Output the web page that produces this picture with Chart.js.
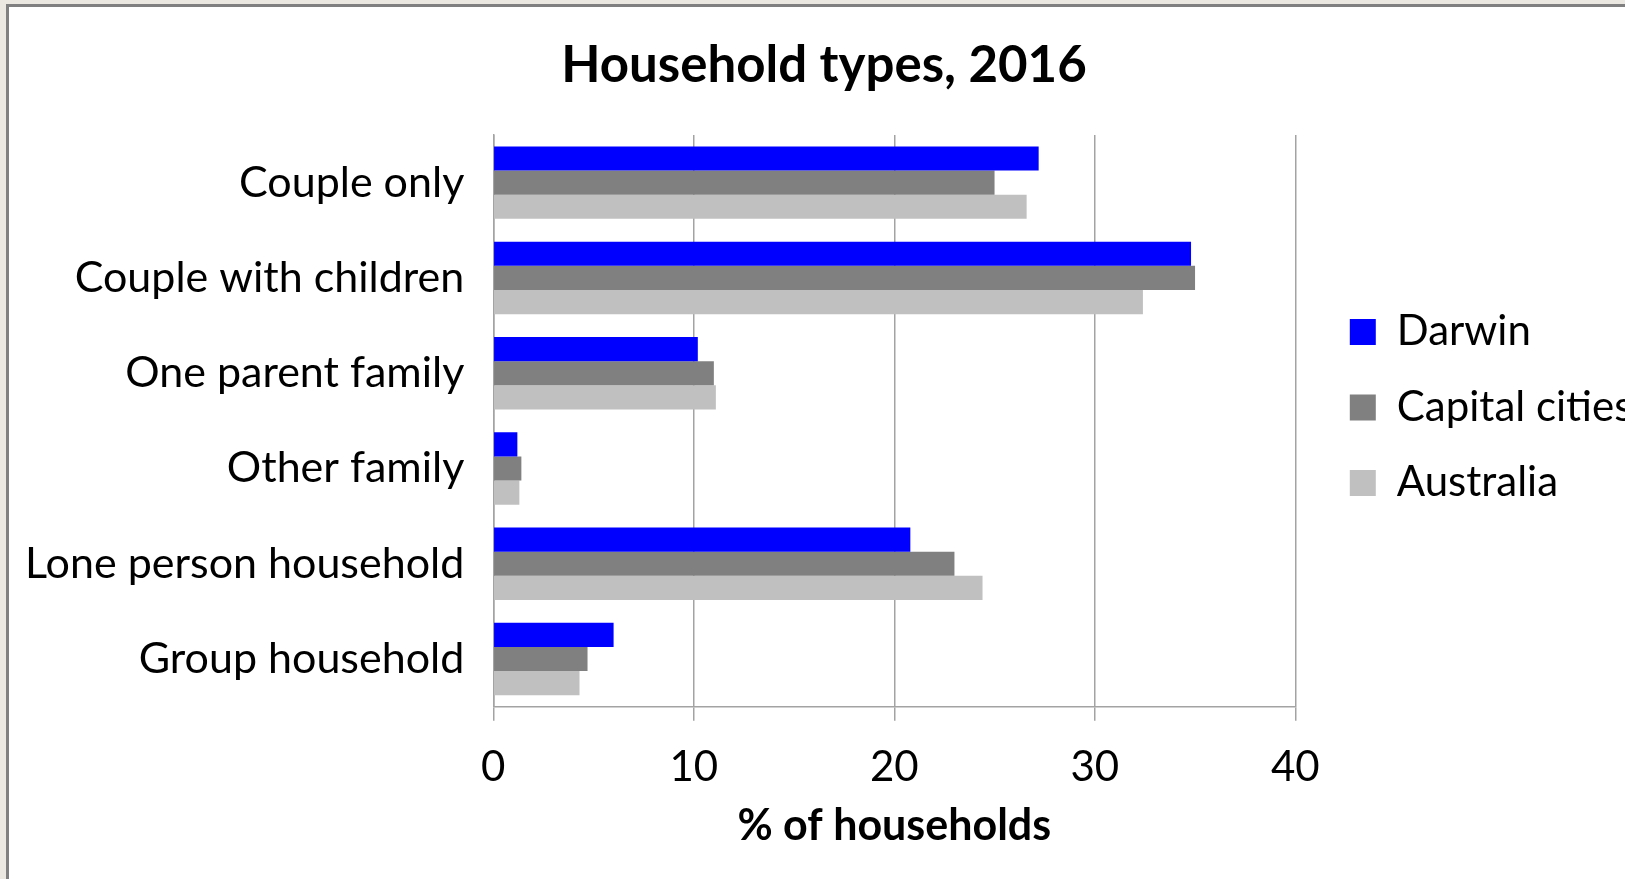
<!DOCTYPE html>
<html>
<head>
<meta charset="utf-8">
<title>Household types, 2016</title>
<script src="https://cdn.jsdelivr.net/npm/chart.js@4.4.1/dist/chart.umd.min.js"></script>
<style>
  html, body { margin: 0; padding: 0; }
  body { width: 1625px; height: 879px; overflow: hidden; background: #ebe8e1; position: relative; }
  #panel { position: absolute; left: 6px; top: 4px; width: 1700px; height: 1000px; background: #fff; border: 3px solid #808080; box-sizing: border-box; }
  #chart { position: absolute; left: 0; top: 0; }
</style>
</head>
<body>
<div id="panel"></div>
<canvas id="chart" width="1700" height="879"></canvas>
<script>
// Data
const categories = ['Couple only', 'Couple with children', 'One parent family', 'Other family', 'Lone person household', 'Group household'];
const seriesNames = ['Darwin', 'Capital cities', 'Australia'];
const darwin = [27.2, 34.8, 10.2, 1.2, 20.8, 6.0];
const capitalCities = [25.0, 35.0, 11.0, 1.4, 23.0, 4.7];
const australia = [26.6, 32.4, 11.1, 1.3, 24.4, 4.3];
const xTicks = [0, 10, 20, 30, 40];

const seriesColors = ['#0000ff', '#808080', '#c0c0c0'];
const FONT = 'Lato, "Open Sans", sans-serif';
const gridColor = '#a3a3a3';

// legend width decides where the plot ends, so measure it first
const probe = document.createElement('canvas').getContext('2d');
probe.font = '42px ' + FONT;
const legendTextW = Math.max(...seriesNames.map(n => probe.measureText(n).width));
const legendPad = 33.5;
const legendW = legendPad + 26 + 21 + legendTextW + 10;
const plotLeft = 493.3;
const plotRight = 1295.3;
const padRight = 1700 - plotRight - legendW;
const padLeft = Math.max(0, 2 * 824 - plotRight - legendW);

// nudge the legend block to where the original puts it
const legendNudge = {
  id: 'legendNudge',
  afterLayout(chart) {
    const lg = chart.legend;
    lg.left += 21; lg.right += 21;
    lg.top -= 13.4; lg.bottom -= 13.4;
  }
};

const ctx = document.getElementById('chart').getContext('2d');
new Chart(ctx, {
  type: 'bar',
  data: {
    labels: categories,
    datasets: [darwin, capitalCities, australia].map((values, i) => ({
      label: seriesNames[i],
      data: values,
      backgroundColor: seriesColors[i],
      borderWidth: 0,
      categoryPercentage: 0.76,
      barPercentage: 1.0
    }))
  },
  options: {
    indexAxis: 'y',
    responsive: false,
    animation: false,
    layout: { padding: { left: padLeft, right: padRight, top: 0, bottom: 40.9 } },
    scales: {
      x: {
        min: xTicks[0],
        max: xTicks[xTicks.length - 1],
        ticks: {
          stepSize: xTicks[1] - xTicks[0],
          padding: 21.4,
          color: '#000',
          font: { family: FONT, size: 42 }
        },
        grid: { color: gridColor, lineWidth: 1.5, tickLength: 14, drawTicks: true },
        border: { display: true, color: gridColor, width: 1.5 },
        title: {
          display: true,
          text: '% of households',
          color: '#000',
          font: { family: FONT, size: 43, weight: 'bold', lineHeight: 0.563 },
          padding: 0
        }
      },
      y: {
        afterFit(scale) { scale.width = plotLeft - padLeft; },
        ticks: {
          padding: 29,
          color: '#000',
          font: { family: FONT, size: 43 }
        },
        grid: { display: false, drawTicks: false },
        border: { display: true, color: gridColor, width: 1.5 }
      }
    },
    plugins: {
      title: {
        display: true,
        text: 'Household types, 2016',
        color: '#000',
        font: { family: FONT, size: 51, weight: 'bold' },
        padding: { top: 34.9, bottom: 38.9 }
      },
      legend: {
        position: 'right',
        fullSize: false,
        labels: {
          boxWidth: 26,
          boxHeight: 26,
          padding: legendPad,
          color: '#000',
          font: { family: FONT, size: 42 }
        }
      },
      tooltip: { enabled: false }
    }
  },
  plugins: [legendNudge]
});
</script>
</body>
</html>
